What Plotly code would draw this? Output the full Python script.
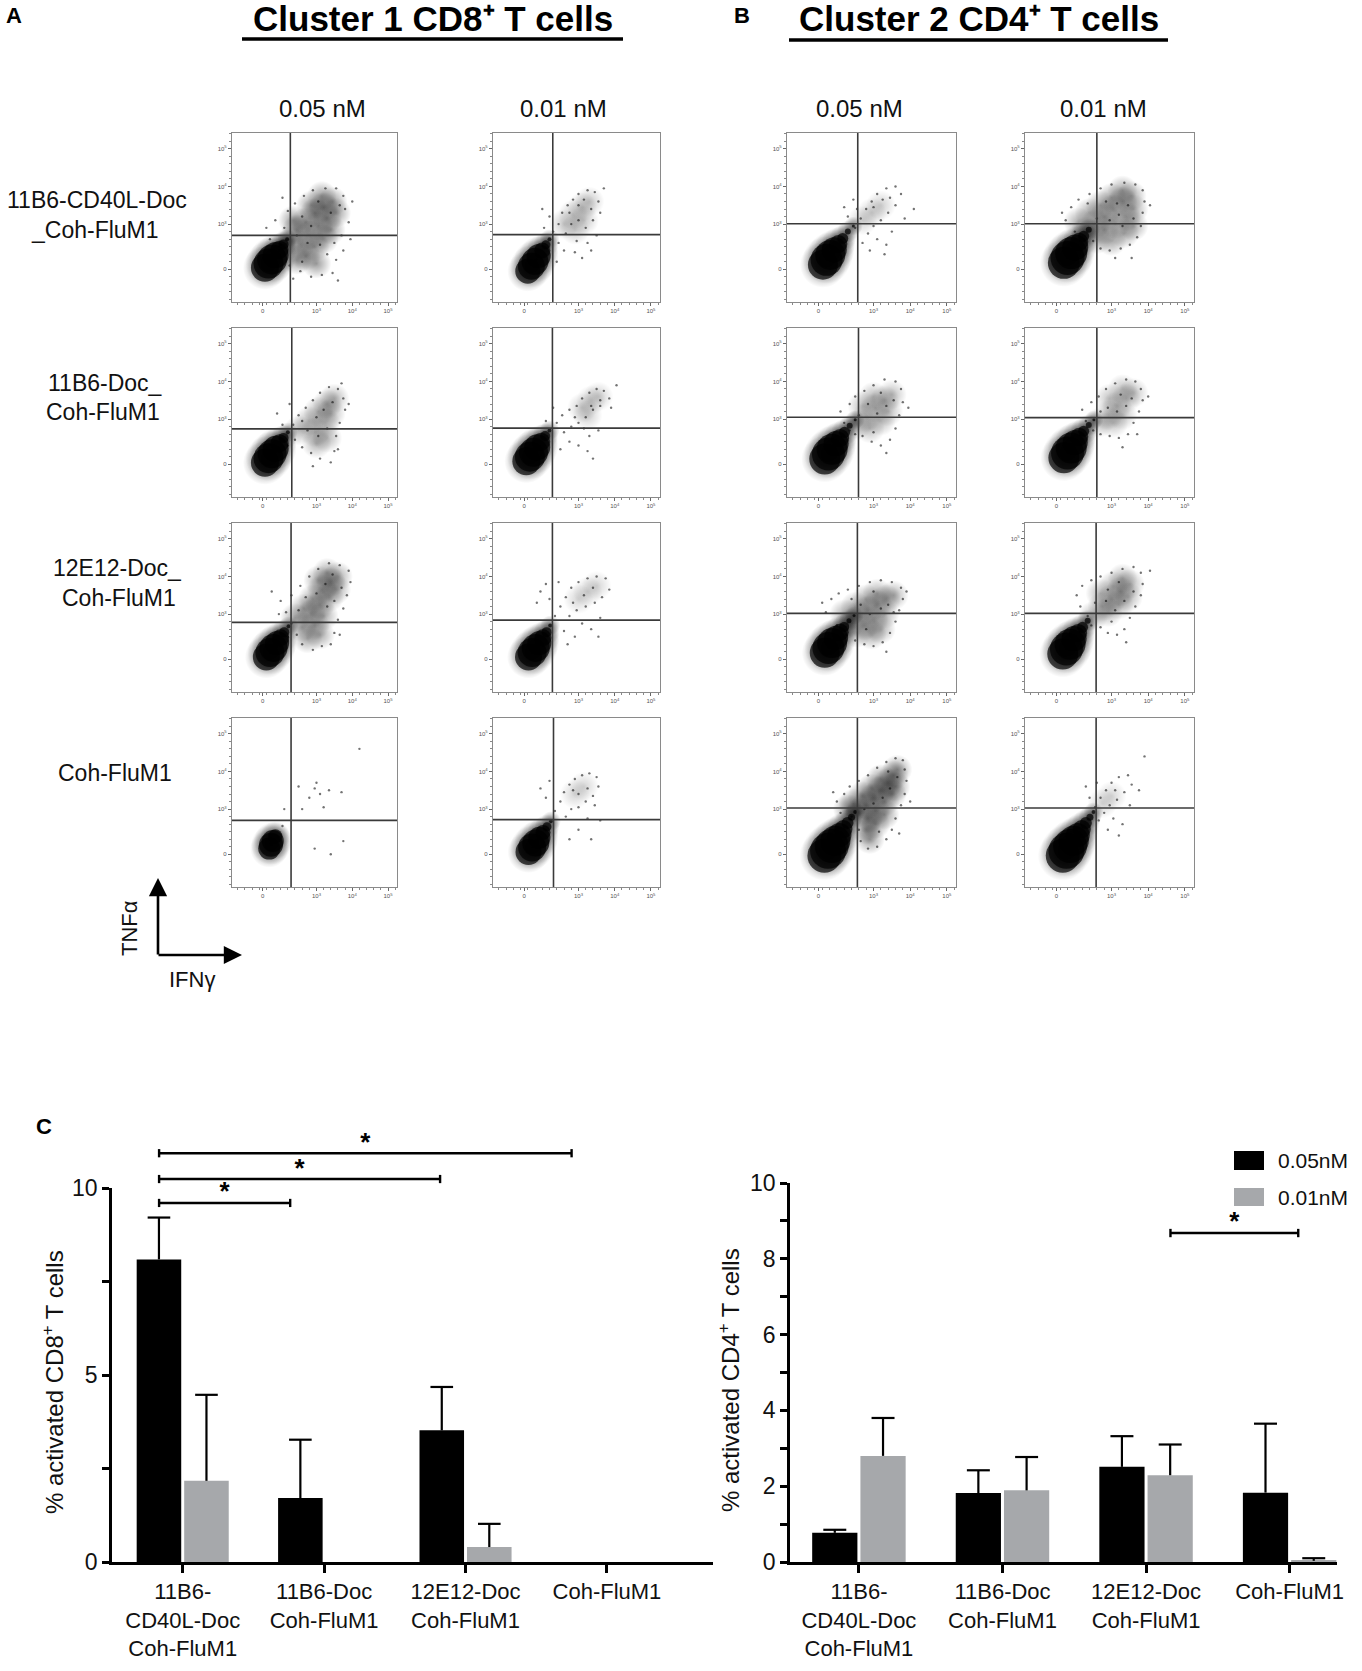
import plotly.graph_objects as go

W, H = 1362, 1671
PAGE_PAD = 0  # body margin is removed by the post script below
FONT = "Liberation Sans, Arial, sans-serif"


def fx(px):
    return (px - PAGE_PAD) / W


def fy(py):
    return 1 - (py - PAGE_PAD) / H


def sfx(n):
    # plotly names the first axis pair "x"/"y", not "x1"/"y1"
    return "" if n == 1 else str(n)


def label(text, px, py, size, angle=0, xanchor="center", color="#111"):
    return dict(text=text, x=fx(px), y=fy(py), xref="paper", yref="paper",
                xanchor=xanchor, yanchor="middle", showarrow=False, textangle=angle,
                font=dict(family=FONT, size=size, color=color))


# ---------------- flow cytometry panels (TNFa vs IFNg) ----------------
# axis units: "0" ~ 1.8 (y) / 1.5 (x), then one unit per decade
FLOW_XRANGE = [0.64, 5.25]
FLOW_YRANGE = [0.93, 5.42]
FLOW_XTICKS = [1.5, 3, 4, 5]
FLOW_YTICKS = [1.8, 3, 4, 5]
FLOW_TICKTEXT = ["0", "10<sup>3</sup>", "10<sup>4</sup>", "10<sup>5</sup>"]

# panel order: row by row, columns = A 0.05, A 0.01, B 0.05, B 0.01
PANEL_IDS = ["A11", "A12", "B11", "B12",
             "A21", "A22", "B21", "B22",
             "A31", "A32", "B31", "B32",
             "A41", "A42", "B41", "B42"]

GATE_X = [2.27, 2.29, 2.57, 2.60,
          2.31, 2.28, 2.59, 2.60,
          2.29, 2.28, 2.56, 2.58,
          2.29, 2.31, 2.56, 2.58]
GATE_Y = [2.70, 2.72, 3.01, 3.01,
          2.74, 2.76, 3.05, 3.04,
          2.78, 2.84, 3.02, 3.02,
          2.70, 2.72, 3.03, 3.03]

HAZE_ALPHA = [0.16, 0.09, 0.08, 0.14,
              0.12, 0.08, 0.11, 0.10,
              0.14, 0.07, 0.13, 0.12,
              0.0, 0.07, 0.16, 0.07]

# dense negative population: (x, y, marker size)
A11_BLOB = [(1.56, 1.84, 30), (1.66, 1.95, 32), (1.76, 2.06, 32), (1.86, 2.18, 28), (1.97, 2.32, 20),
            (2.08, 2.46, 12), (2.18, 2.6, 6)]
A12_BLOB = [(1.6, 1.75, 27), (1.7, 1.88, 29), (1.8, 2.01, 29), (1.9, 2.15, 26), (2.0, 2.3, 18),
            (2.1, 2.45, 11), (2.2, 2.6, 6)]
A21_BLOB = [(1.56, 1.84, 30), (1.66, 1.96, 32), (1.76, 2.08, 31), (1.86, 2.21, 28), (1.97, 2.36, 20),
            (2.08, 2.5, 12), (2.2, 2.65, 6)]
A22_BLOB = [(1.56, 1.88, 30), (1.66, 2.0, 32), (1.76, 2.12, 31), (1.86, 2.25, 28), (1.97, 2.4, 20),
            (2.08, 2.55, 12), (2.2, 2.7, 6)]
A31_BLOB = [(1.6, 1.86, 29), (1.7, 1.98, 31), (1.8, 2.1, 30), (1.9, 2.23, 26), (2.0, 2.37, 19),
            (2.1, 2.52, 12), (2.22, 2.68, 6)]
A32_BLOB = [(1.62, 1.86, 29), (1.72, 1.98, 31), (1.82, 2.1, 30), (1.92, 2.23, 26), (2.02, 2.37, 19),
            (2.12, 2.52, 12), (2.22, 2.7, 6)]
A41_BLOB = [(1.68, 1.95, 24), (1.73, 2.05, 26), (1.78, 2.15, 24), (1.85, 2.28, 16)]
A42_BLOB = [(1.62, 1.86, 28), (1.72, 1.98, 30), (1.82, 2.1, 29), (1.92, 2.24, 24), (2.02, 2.38, 17),
            (2.13, 2.53, 11), (2.24, 2.68, 6)]
B11_BLOB = [(1.62, 1.92, 32), (1.72, 2.05, 34), (1.82, 2.18, 32), (1.93, 2.32, 27), (2.04, 2.47, 20),
            (2.16, 2.62, 13), (2.3, 2.8, 8), (2.45, 2.95, 5)]
B12_BLOB = [(1.7, 1.97, 34), (1.8, 2.1, 36), (1.9, 2.23, 34), (2.01, 2.38, 28), (2.12, 2.53, 20),
            (2.24, 2.68, 13), (2.38, 2.85, 8)]
B21_BLOB = [(1.67, 1.94, 33), (1.77, 2.07, 35), (1.87, 2.2, 33), (1.98, 2.35, 27), (2.09, 2.5, 20),
            (2.21, 2.65, 13), (2.35, 2.82, 8), (2.5, 2.98, 5)]
B22_BLOB = [(1.7, 1.97, 33), (1.8, 2.1, 35), (1.9, 2.23, 33), (2.01, 2.38, 27), (2.12, 2.53, 20),
            (2.24, 2.68, 13), (2.38, 2.84, 8), (2.52, 2.98, 5)]
B31_BLOB = [(1.67, 1.97, 32), (1.77, 2.1, 34), (1.87, 2.23, 32), (1.98, 2.37, 26), (2.09, 2.52, 19),
            (2.2, 2.66, 12), (2.33, 2.82, 7), (2.47, 2.96, 5)]
B32_BLOB = [(1.67, 1.94, 33), (1.77, 2.07, 35), (1.87, 2.2, 33), (1.98, 2.35, 27), (2.09, 2.5, 20),
            (2.21, 2.65, 13), (2.35, 2.82, 8)]
B41_BLOB = [(1.66, 1.76, 36), (1.76, 1.89, 38), (1.86, 2.02, 36), (1.96, 2.16, 32), (2.07, 2.31, 26),
            (2.18, 2.47, 20), (2.29, 2.63, 14), (2.4, 2.78, 9), (2.5, 2.92, 6)]
B42_BLOB = [(1.67, 1.76, 36), (1.77, 1.89, 38), (1.87, 2.02, 36), (1.97, 2.16, 32), (2.08, 2.31, 26),
            (2.19, 2.47, 20), (2.3, 2.63, 14), (2.41, 2.78, 9), (2.51, 2.92, 6)]

# diffuse density of activated cells
A11_HAZE = [(2.25, 2.55), (2.45, 2.85), (2.7, 3.05), (2.95, 3.3), (3.2, 3.45), (3.45, 3.6), (2.55, 2.45),
            (2.8, 2.7), (3.05, 2.95), (3.3, 3.15), (3.55, 3.3), (2.7, 2.15), (2.95, 2.4), (3.2, 2.6),
            (3.4, 2.85), (2.45, 2.05), (3.0, 1.95), (2.85, 3.5), (3.15, 3.75), (2.35, 3.1)]
A12_HAZE = [(2.6, 3.0), (2.85, 3.25), (3.1, 3.45), (3.3, 3.6), (2.9, 2.85), (3.15, 3.1)]
A21_HAZE = [(2.5, 2.7), (2.8, 2.95), (3.05, 3.2), (3.3, 3.4), (3.5, 3.55), (2.95, 2.65), (3.25, 2.9),
            (3.4, 3.15), (3.0, 2.35), (3.3, 2.5)]
A22_HAZE = [(3.1, 3.3), (3.35, 3.5), (3.55, 3.6), (3.25, 3.1)]
A31_HAZE = [(2.4, 2.9), (2.65, 3.15), (2.9, 3.4), (3.15, 3.65), (3.4, 3.85), (3.6, 4.0), (2.85, 3.0),
            (3.1, 3.25), (3.35, 3.45), (3.55, 3.65), (3.05, 3.9), (3.3, 4.1), (2.6, 2.65), (2.95, 2.7),
            (3.2, 2.95), (2.75, 2.35), (3.1, 2.45)]
A32_HAZE = [(3.0, 3.4), (3.25, 3.6), (3.5, 3.75)]
A41_HAZE = []
A42_HAZE = [(2.9, 3.4), (3.15, 3.6)]
B11_HAZE = [(2.7, 3.1), (2.95, 3.3), (3.2, 3.5)]
B12_HAZE = [(2.3, 2.8), (2.55, 3.0), (2.8, 3.2), (3.05, 3.4), (3.3, 3.6), (3.55, 3.75), (2.1, 3.05),
            (2.4, 3.3), (2.7, 3.5), (3.0, 3.7), (3.3, 3.9), (2.8, 2.85), (3.1, 3.0), (3.4, 3.2),
            (3.6, 3.4), (3.0, 2.55), (3.35, 2.75), (3.6, 2.95), (2.6, 2.6)]
B21_HAZE = [(2.55, 2.85), (2.8, 3.05), (3.05, 3.3), (3.3, 3.5), (3.5, 3.65), (2.9, 2.75), (3.2, 2.95),
            (3.4, 3.2), (2.7, 3.35), (3.0, 3.6)]
B22_HAZE = [(2.65, 2.9), (2.9, 3.1), (3.15, 3.35), (3.4, 3.55), (3.6, 3.7), (3.05, 2.9), (3.3, 3.1),
            (2.95, 3.55), (3.3, 3.8)]
B31_HAZE = [(2.35, 2.75), (2.6, 2.95), (2.85, 3.1), (3.1, 3.25), (3.35, 3.4), (3.55, 3.5), (2.2, 3.0),
            (2.5, 3.2), (2.8, 3.4), (3.1, 3.55), (2.75, 2.7), (3.0, 2.85), (3.3, 3.0), (2.95, 2.45),
            (3.2, 2.6), (2.55, 2.5)]
B32_HAZE = [(2.5, 2.95), (2.75, 3.2), (3.0, 3.4), (3.25, 3.6), (3.5, 3.8), (2.9, 3.05), (3.2, 3.25),
            (3.45, 3.45), (2.7, 3.55), (3.05, 3.75), (3.3, 3.95)]
B41_HAZE = [(2.6, 2.9), (2.8, 3.1), (3.0, 3.3), (3.2, 3.5), (3.4, 3.7), (3.55, 3.9), (3.65, 4.05),
            (2.85, 2.75), (3.05, 2.95), (3.3, 3.2), (3.5, 3.4), (3.6, 3.6), (2.45, 3.15), (2.7, 3.35),
            (2.95, 3.55), (3.2, 3.8), (2.8, 2.45), (3.05, 2.6), (3.3, 2.85), (2.9, 2.2), (2.3, 3.0)]
B42_HAZE = [(2.75, 3.15), (3.0, 3.35)]

# individual scattered events
A11_DOTS = [(2.0, 2.45), (2.1, 2.9), (1.85, 3.1), (2.2, 3.35), (1.7, 2.6), (2.4, 3.55), (2.65, 3.75),
            (2.9, 3.9), (3.25, 3.95), (3.55, 3.95), (3.75, 3.75), (3.8, 3.4), (3.9, 3.05), (3.7, 2.7),
            (3.75, 2.3), (3.55, 2.05), (3.45, 1.7), (3.15, 1.65), (2.85, 1.6), (2.55, 1.75), (2.35, 1.55),
            (2.25, 1.9), (3.6, 1.5), (4.0, 3.6), (3.95, 2.6), (2.05, 3.7), (1.6, 2.9), (2.6, 2.0),
            (3.3, 2.2), (3.1, 2.45), (2.85, 2.95), (2.6, 3.2), (3.4, 3.3), (3.65, 3.5), (3.05, 3.6),
            (2.75, 2.5), (3.5, 2.5), (2.45, 2.7)]
A12_DOTS = [(2.3, 2.8), (2.45, 3.0), (2.55, 3.3), (2.7, 3.5), (2.85, 3.65), (3.0, 3.8), (3.25, 3.9),
            (3.45, 3.85), (3.55, 3.6), (3.6, 3.3), (3.4, 3.1), (3.2, 2.9), (3.0, 3.1), (2.8, 3.0),
            (2.65, 2.75), (2.95, 2.55), (3.25, 2.5), (2.9, 2.25), (3.1, 2.1), (2.6, 2.3), (2.45, 2.5),
            (3.5, 2.7), (2.2, 3.2), (2.05, 2.9), (3.7, 3.95), (3.35, 3.4), (3.0, 3.5), (2.75, 3.3),
            (3.15, 3.65), (2.4, 2.0), (3.35, 2.3), (2.0, 3.4)]
A21_DOTS = [(2.35, 2.85), (2.5, 3.1), (2.7, 3.3), (2.9, 3.5), (3.1, 3.7), (3.35, 3.85), (3.6, 3.8),
            (3.75, 3.55), (3.8, 3.25), (3.65, 2.9), (3.55, 2.55), (3.5, 2.15), (3.4, 1.85), (3.1, 1.95),
            (2.85, 2.1), (2.6, 2.25), (2.4, 2.45), (2.2, 2.3), (2.05, 2.85), (1.9, 3.15), (2.25, 3.4),
            (3.0, 3.05), (3.2, 3.25), (3.45, 3.45), (2.75, 2.7), (3.05, 2.55), (3.3, 2.75), (2.6, 2.95),
            (3.7, 3.95), (3.9, 3.4), (2.9, 1.75), (3.6, 2.2)]
A22_DOTS = [(2.4, 2.9), (2.55, 3.1), (2.75, 3.25), (2.95, 3.35), (3.1, 3.55), (3.3, 3.7), (3.5, 3.8),
            (3.7, 3.75), (3.85, 3.55), (3.6, 3.35), (3.4, 3.25), (3.2, 3.05), (3.0, 2.9), (2.8, 2.8),
            (2.6, 2.65), (2.75, 2.4), (3.0, 2.3), (3.25, 2.15), (3.4, 1.95), (3.3, 2.55), (3.55, 2.7),
            (2.5, 2.2), (2.3, 3.3), (2.1, 2.95), (4.05, 3.9), (3.9, 3.3), (3.35, 3.35), (3.6, 3.5),
            (2.9, 3.05), (3.15, 2.75)]
A31_DOTS = [(2.3, 2.75), (2.15, 3.05), (2.0, 3.35), (1.75, 3.6), (2.3, 3.5), (2.55, 3.75), (2.8, 4.0),
            (3.05, 4.2), (3.35, 4.35), (3.65, 4.3), (3.9, 4.15), (3.95, 3.85), (3.85, 3.5), (3.75, 3.15),
            (3.6, 2.85), (3.5, 2.5), (3.4, 2.2), (3.15, 2.15), (2.9, 2.05), (2.6, 2.2), (2.45, 2.45),
            (3.3, 3.2), (3.0, 3.55), (2.7, 3.45), (3.5, 3.35), (3.25, 3.8), (3.45, 4.05), (2.5, 3.1),
            (3.7, 3.7), (2.2, 2.4), (3.65, 2.45), (1.95, 3.0)]
A32_DOTS = [(2.35, 2.95), (2.5, 3.2), (2.65, 3.45), (2.8, 3.7), (3.0, 3.85), (3.25, 3.95), (3.5, 4.0),
            (3.75, 3.95), (3.85, 3.65), (3.65, 3.45), (3.45, 3.3), (3.2, 3.2), (2.95, 3.1), (2.75, 2.95),
            (3.1, 2.75), (3.35, 2.6), (2.9, 2.4), (2.6, 2.55), (2.2, 3.4), (1.95, 3.6), (1.85, 3.3),
            (2.1, 3.8), (2.45, 3.85), (3.6, 2.9), (3.15, 3.5), (3.4, 3.7), (2.85, 3.3), (3.55, 2.4),
            (2.7, 2.2)]
A41_DOTS = [(2.95, 3.55), (2.8, 3.3), (3.1, 3.4), (3.35, 3.5), (3.7, 3.45), (2.6, 3.0), (3.2, 3.05),
            (2.95, 1.95), (3.4, 1.8), (3.75, 2.15), (2.1, 3.0), (2.05, 2.55), (4.2, 4.6), (3.0, 3.7),
            (2.5, 3.6)]
A42_DOTS = [(2.35, 2.95), (2.5, 3.2), (2.6, 3.45), (2.75, 3.65), (2.9, 3.8), (3.1, 3.9), (3.3, 3.95),
            (3.5, 3.85), (3.55, 3.6), (3.4, 3.35), (3.2, 3.2), (3.0, 3.05), (2.8, 3.0), (2.65, 2.8),
            (3.0, 3.4), (3.25, 3.55), (2.85, 3.5), (3.45, 3.1), (2.1, 3.3), (1.95, 3.55), (2.2, 3.75),
            (3.0, 2.45), (3.35, 2.2), (2.75, 2.2), (3.6, 2.7), (3.25, 2.75)]
B11_DOTS = [(2.5, 2.9), (2.65, 3.15), (2.8, 3.4), (2.95, 3.6), (3.1, 3.8), (3.35, 3.95), (3.6, 4.0),
            (3.75, 3.8), (3.6, 3.5), (3.4, 3.3), (3.2, 3.1), (3.0, 2.95), (2.85, 2.75), (3.1, 2.6),
            (3.35, 2.45), (3.5, 2.8), (2.7, 2.5), (2.3, 3.2), (2.2, 3.45), (2.45, 3.65), (3.25, 3.65),
            (3.0, 3.45), (3.45, 3.7), (3.85, 3.15), (3.3, 2.2), (2.9, 2.3), (2.55, 3.4), (4.1, 3.4)]
B12_DOTS = [(1.75, 3.1), (1.65, 3.3), (1.9, 3.45), (2.1, 3.65), (2.4, 3.8), (2.7, 3.95), (3.0, 4.05),
            (3.35, 4.1), (3.65, 4.05), (3.85, 3.9), (3.9, 3.6), (3.85, 3.3), (3.8, 2.95), (3.7, 2.65),
            (3.5, 2.45), (3.25, 2.35), (2.95, 2.3), (2.7, 2.35), (2.5, 2.55), (2.25, 2.55), (2.0, 2.8),
            (3.2, 3.25), (2.95, 3.1), (2.6, 3.15), (3.45, 3.5), (3.15, 3.55), (2.85, 3.6), (3.6, 3.15),
            (2.35, 3.55), (3.3, 2.95), (4.05, 3.5), (3.1, 2.1), (3.55, 2.1)]
B21_DOTS = [(2.2, 2.9), (2.1, 3.2), (2.35, 3.4), (2.5, 3.6), (2.75, 3.75), (3.0, 3.9), (3.3, 4.05),
            (3.6, 4.0), (3.75, 3.8), (3.8, 3.45), (3.7, 3.1), (3.6, 2.75), (3.45, 2.45), (3.2, 2.3),
            (2.95, 2.4), (2.7, 2.55), (2.5, 2.6), (3.1, 3.15), (2.85, 3.4), (3.35, 3.35), (3.55, 3.5),
            (3.2, 3.7), (2.6, 3.1), (3.0, 2.65), (3.95, 3.3), (2.35, 2.7), (3.35, 2.1)]
B22_DOTS = [(2.3, 2.95), (2.2, 3.25), (2.45, 3.45), (2.65, 3.6), (2.85, 3.8), (3.1, 3.95), (3.4, 4.05),
            (3.65, 4.0), (3.8, 3.8), (3.85, 3.5), (3.75, 3.2), (3.6, 2.9), (3.45, 2.6), (3.2, 2.5),
            (2.95, 2.55), (2.7, 2.6), (2.5, 2.7), (3.15, 3.2), (2.9, 3.3), (3.4, 3.35), (3.55, 3.55),
            (3.25, 3.65), (2.7, 3.2), (3.7, 2.6), (4.0, 3.6), (3.3, 2.25)]
B31_DOTS = [(1.7, 3.05), (1.6, 3.3), (1.85, 3.4), (2.05, 3.55), (2.3, 3.65), (2.6, 3.75), (2.9, 3.85),
            (3.2, 3.9), (3.5, 3.85), (3.75, 3.7), (3.8, 3.4), (3.7, 3.1), (3.6, 2.8), (3.45, 2.5),
            (3.25, 2.25), (3.0, 2.15), (2.75, 2.2), (2.5, 2.3), (2.25, 2.45), (2.0, 2.7), (2.9, 3.0),
            (2.65, 3.25), (3.2, 3.15), (3.4, 3.25), (2.4, 3.4), (3.0, 3.6), (3.55, 3.05), (2.8, 2.6),
            (3.9, 3.6), (3.35, 2.0)]
B32_DOTS = [(2.15, 3.2), (2.05, 3.5), (2.2, 3.75), (2.45, 3.9), (2.7, 4.0), (3.0, 4.1), (3.3, 4.2),
            (3.6, 4.25), (3.8, 4.1), (3.85, 3.8), (3.8, 3.5), (3.65, 3.2), (3.5, 2.9), (3.35, 2.6),
            (3.15, 2.45), (2.9, 2.5), (2.7, 2.65), (2.45, 2.7), (2.35, 2.95), (3.1, 3.1), (2.85, 3.35),
            (3.35, 3.35), (3.6, 3.6), (3.2, 3.85), (2.55, 3.3), (3.0, 2.8), (4.05, 4.15), (3.4, 2.25),
            (2.9, 3.65)]
B41_DOTS = [(2.0, 3.2), (1.9, 3.45), (2.2, 3.4), (2.35, 3.6), (2.6, 3.75), (2.85, 3.9), (3.1, 4.1),
            (3.35, 4.25), (3.6, 4.35), (3.8, 4.3), (3.85, 4.05), (3.9, 3.75), (3.85, 3.4), (3.75, 3.1),
            (3.6, 2.75), (3.5, 2.45), (3.35, 2.2), (3.1, 2.0), (2.85, 1.95), (2.65, 2.15), (2.6, 2.45),
            (3.45, 3.55), (3.25, 3.3), (3.0, 3.15), (2.75, 3.0), (3.65, 3.85), (3.4, 4.0), (3.15, 2.4),
            (2.4, 2.8), (4.0, 3.2), (2.1, 2.9), (3.7, 2.35)]
B42_DOTS = [(2.55, 3.05), (2.7, 3.3), (2.85, 3.5), (3.0, 3.7), (3.2, 3.85), (3.45, 3.9), (3.55, 3.65),
            (3.35, 3.45), (3.15, 3.25), (2.95, 3.1), (2.8, 2.9), (3.05, 2.75), (3.3, 2.6), (2.9, 2.45),
            (2.4, 3.3), (2.3, 3.6), (3.1, 3.5), (2.65, 2.7), (3.5, 3.1), (3.75, 3.5), (3.2, 2.3),
            (2.6, 3.7), (3.9, 4.4)]

BLOBS = [A11_BLOB, A12_BLOB, B11_BLOB, B12_BLOB, A21_BLOB, A22_BLOB, B21_BLOB, B22_BLOB,
         A31_BLOB, A32_BLOB, B31_BLOB, B32_BLOB, A41_BLOB, A42_BLOB, B41_BLOB, B42_BLOB]
HAZES = [A11_HAZE, A12_HAZE, B11_HAZE, B12_HAZE, A21_HAZE, A22_HAZE, B21_HAZE, B22_HAZE,
         A31_HAZE, A32_HAZE, B31_HAZE, B32_HAZE, A41_HAZE, A42_HAZE, B41_HAZE, B42_HAZE]
DOTS = [A11_DOTS, A12_DOTS, B11_DOTS, B12_DOTS, A21_DOTS, A22_DOTS, B21_DOTS, B22_DOTS,
        A31_DOTS, A32_DOTS, B31_DOTS, B32_DOTS, A41_DOTS, A42_DOTS, B41_DOTS, B42_DOTS]

# panel boxes in page pixels
COL_X = [(232, 397), (493, 660), (787, 956), (1025, 1194)]
ROW_Y = [(133, 302), (328, 497), (523, 692), (718, 887)]

COL_HEADERS = ["0.05 nM", "0.01 nM", "0.05 nM", "0.01 nM"]
ROW_LABELS = [["11B6-CD40L-Doc", "_Coh-FluM1"], ["11B6-Doc_", "Coh-FluM1"],
              ["12E12-Doc_", "Coh-FluM1"], ["Coh-FluM1"]]

# ---------------- bar charts ----------------
GROUPS = ["11B6-<br>CD40L-Doc<br>Coh-FluM1", "11B6-Doc<br>Coh-FluM1",
          "12E12-Doc<br>Coh-FluM1", "Coh-FluM1"]
SERIES = ["0.05nM", "0.01nM"]
CD8_05 = [8.09, 1.71, 3.52, 0.0]
CD8_05_ERR = [1.12, 1.56, 1.16, 0.0]
CD8_01 = [2.17, 0.0, 0.40, 0.0]
CD8_01_ERR = [2.30, 0.0, 0.62, 0.0]
CD4_05 = [0.77, 1.82, 2.51, 1.83]
CD4_05_ERR = [0.08, 0.60, 0.81, 1.82]
CD4_01 = [2.80, 1.89, 2.29, 0.03]
CD4_01_ERR = [1.00, 0.88, 0.81, 0.07]
# significance brackets: (x start, x end, height)
CD8_BRACKETS = [(-0.167, 0.76, 9.6), (-0.167, 1.82, 10.24), (-0.167, 2.75, 10.93)]
CD4_BRACKETS = [(2.17, 3.06, 8.68)]

BLACK = "#000000"
GREY = "#a6a8ab"
OFF = 0.168
BAR_W = 0.315
CAP = 0.08

fig = go.Figure()
shapes = []
annotations = []
layout_axes = {}

tickfont = dict(family=FONT, size=6, color="#555")
for k, pid in enumerate(PANEL_IDS):
    n = k + 1
    r, c = divmod(k, 4)
    x0, x1 = COL_X[c]
    y0, y1 = ROW_Y[r]
    xa, ya = "x" + sfx(n), "y" + sfx(n)
    common = dict(showgrid=False, zeroline=False, showline=True, mirror=True,
                  linecolor="#8a8a8a", linewidth=1.2, ticks="outside", ticklen=3,
                  tickcolor="#666", tickfont=tickfont, tickmode="array",
                  ticktext=FLOW_TICKTEXT, fixedrange=True, automargin=False,
                  minor=dict(tickmode="linear", tick0=0, dtick=0.2, ticklen=2,
                             tickcolor="#888", ticks="outside"))
    layout_axes["xaxis" + sfx(n)] = dict(common, domain=[fx(x0), fx(x1)], range=FLOW_XRANGE,
                                         tickvals=FLOW_XTICKS, anchor=ya)
    layout_axes["yaxis" + sfx(n)] = dict(common, domain=[fy(y1), fy(y0)], range=FLOW_YRANGE,
                                         tickvals=FLOW_YTICKS, anchor=xa)

    haze = HAZES[k]
    if haze and HAZE_ALPHA[k] > 0:
        # radial gradient: gradient.color is the centre, marker.color the rim
        fig.add_trace(go.Scatter(
            x=[p[0] for p in haze], y=[p[1] for p in haze], mode="markers",
            marker=dict(size=30, color="rgba(0,0,0,0)",
                        gradient=dict(type="radial",
                                      color=f"rgba(0,0,0,{min(HAZE_ALPHA[k] * 2.4, 0.5):.3f})"),
                        line=dict(width=0)),
            xaxis=xa, yaxis=ya, hoverinfo="skip", showlegend=False))
    dots = DOTS[k]
    fig.add_trace(go.Scatter(
        x=[p[0] for p in dots], y=[p[1] for p in dots], mode="markers",
        marker=dict(size=2.4, color="rgba(0,0,0,0.55)", line=dict(width=0)),
        xaxis=xa, yaxis=ya, hoverinfo="skip", showlegend=False))
    blob = BLOBS[k]
    fig.add_trace(go.Scatter(
        x=[p[0] for p in blob], y=[p[1] for p in blob], mode="markers",
        marker=dict(size=[p[2] + 14 for p in blob], color="rgba(0,0,0,0)",
                    gradient=dict(type="radial", color="rgba(0,0,0,0.7)"), line=dict(width=0)),
        xaxis=xa, yaxis=ya, hoverinfo="skip", showlegend=False))
    fig.add_trace(go.Scatter(
        x=[p[0] for p in blob], y=[p[1] for p in blob], mode="markers",
        marker=dict(size=[p[2] - 2 for p in blob], color=BLACK, line=dict(width=0)),
        xaxis=xa, yaxis=ya, hoverinfo="skip", showlegend=False))

    # quadrant gates
    shapes.append(dict(type="line", xref=xa, yref=f"{ya} domain", x0=GATE_X[k], x1=GATE_X[k],
                       y0=0, y1=1, line=dict(color="#3a3a3a", width=1.6)))
    shapes.append(dict(type="line", xref=f"{xa} domain", yref=ya, x0=0, x1=1,
                       y0=GATE_Y[k], y1=GATE_Y[k], line=dict(color="#3a3a3a", width=1.6)))

# column headers
for c, txt in enumerate(COL_HEADERS):
    cx = [322, 563, 859, 1103][c]
    annotations.append(label(txt, cx, 109, 24))

# row labels
ROW_LABEL_POS = [[(97, 200), (95, 230)], [(105, 383), (103, 412)],
                 [(117, 568), (119, 598)], [(115, 773)]]
for r, lines in enumerate(ROW_LABELS):
    for txt, (px, py) in zip(lines, ROW_LABEL_POS[r]):
        annotations.append(label(txt, px, py, 23))

# panel letters and titles
for txt, px, py in [("A", 14, 16), ("B", 742, 15), ("C", 44, 1126)]:
    annotations.append(label(f"<b>{txt}</b>", px, py, 22, color="#000"))
for txt, px in [("Cluster 1 CD8⁺ T cells", 433), ("Cluster 2 CD4⁺ T cells", 979)]:
    annotations.append(label(f"<b>{txt}</b>", px, 19, 35, color="#000"))
for ux0, ux1, uy in [(242, 623, 39), (789, 1168, 40)]:
    shapes.append(dict(type="line", xref="paper", yref="paper", x0=fx(ux0), x1=fx(ux1),
                       y0=fy(uy), y1=fy(uy), line=dict(color="#000", width=3.5)))

# TNFa / IFNg orientation arrows
annotations.append(dict(x=fx(158), y=fy(878), xref="paper", yref="paper", ax=0, ay=78,
                        text="", showarrow=True, arrowhead=2, arrowsize=1.4, arrowwidth=2.6,
                        arrowcolor="#000", standoff=0, startstandoff=0))
annotations.append(dict(x=fx(242), y=fy(955), xref="paper", yref="paper", ax=-85, ay=0,
                        text="", showarrow=True, arrowhead=2, arrowsize=1.4, arrowwidth=2.6,
                        arrowcolor="#000", standoff=0, startstandoff=0))
annotations.append(label("TNFα", 129, 928, 22, angle=-90))
annotations.append(label("IFNγ", 192, 980, 22))

# ---------------- bar charts ----------------
# brackets live on a taller invisible y axis with the same scale, so they may rise above 10
BAR_AXES = [
    dict(n=17, over=19, vals05=CD8_05, err05=CD8_05_ERR, vals01=CD8_01, err01=CD8_01_ERR,
         brackets=CD8_BRACKETS, xdom=(112, 713), xr=[-0.5, 3.75], ydom=(1188, 1562),
         ytickvals=[0, 5, 10], minor=2.5,
         title="% activated CD8<sup>+</sup> T cells", tx=53, ty=1382),
    dict(n=18, over=20, vals05=CD4_05, err05=CD4_05_ERR, vals01=CD4_01, err01=CD4_01_ERR,
         brackets=CD4_BRACKETS, xdom=(790, 1337), xr=[-0.48, 3.33], ydom=(1183, 1562),
         ytickvals=[0, 2, 4, 6, 8, 10], minor=1,
         title="% activated CD4<sup>+</sup> T cells", tx=729, ty=1380),
]
OVER_TOP = 1110

for spec in BAR_AXES:
    n = spec["n"]
    xa, ya, yo = f"x{n}", f"y{n}", f"y{spec['over']}"
    idx = list(range(len(GROUPS)))
    fig.add_trace(go.Bar(x=[i - OFF for i in idx], y=spec["vals05"], width=BAR_W,
                         marker=dict(color=BLACK, line=dict(width=0)), name=SERIES[0],
                         xaxis=xa, yaxis=ya, showlegend=False, hoverinfo="skip"))
    fig.add_trace(go.Bar(x=[i + OFF for i in idx], y=spec["vals01"], width=BAR_W,
                         marker=dict(color=GREY, line=dict(width=0)), name=SERIES[1],
                         xaxis=xa, yaxis=ya, showlegend=False, hoverinfo="skip"))
    # upper error bars only
    ex, ey = [], []
    for shift, vals, errs in [(-OFF, spec["vals05"], spec["err05"]), (OFF, spec["vals01"], spec["err01"])]:
        for i, (v, e) in enumerate(zip(vals, errs)):
            if e <= 0:
                continue
            xc = i + shift
            ex += [xc, xc, None, xc - CAP, xc + CAP, None]
            ey += [v, v + e, None, v + e, v + e, None]
    fig.add_trace(go.Scatter(x=ex, y=ey, mode="lines", line=dict(color=BLACK, width=2.2),
                             xaxis=xa, yaxis=yo, hoverinfo="skip", showlegend=False))
    # significance brackets
    bx, by, sx, sy = [], [], [], []
    for b0, b1, h in spec["brackets"]:
        bx += [b0, b1, None, b0, b0, None, b1, b1, None]
        by += [h, h, None, h - 0.11, h + 0.11, None, h - 0.11, h + 0.11, None]
        sx.append((b0 + b1) / 2)
        sy.append(h + 0.24)
    fig.add_trace(go.Scatter(x=bx, y=by, mode="lines", line=dict(color=BLACK, width=2.4),
                             xaxis=xa, yaxis=yo, hoverinfo="skip", showlegend=False))
    fig.add_trace(go.Scatter(x=sx, y=sy, mode="text", text=["*"] * len(sx),
                             textposition="middle center",
                             textfont=dict(family=FONT, size=26, color=BLACK, weight="bold"),
                             xaxis=xa, yaxis=yo, hoverinfo="skip", showlegend=False))

    x0, x1 = spec["xdom"]
    y0, y1 = spec["ydom"]
    scale = (y1 - y0) / 10.0
    layout_axes[f"xaxis{n}"] = dict(
        domain=[fx(x0), fx(x1)], range=spec["xr"], anchor=ya, showgrid=False, zeroline=False,
        showline=True, linecolor=BLACK, linewidth=2.5, ticks="outside", ticklen=8, tickwidth=2.5,
        tickcolor=BLACK, tickmode="array", tickvals=idx, ticktext=GROUPS, fixedrange=True,
        automargin=False, tickfont=dict(family=FONT, size=22, color="#111"))
    layout_axes[f"yaxis{n}"] = dict(
        domain=[fy(y1), fy(y0)], range=[0, 10], anchor=xa, showgrid=False, zeroline=False,
        showline=True, linecolor=BLACK, linewidth=2.5, ticks="outside", ticklen=7, tickwidth=2.5,
        tickcolor=BLACK, tickmode="array", tickvals=spec["ytickvals"], fixedrange=True,
        automargin=False, tickfont=dict(family=FONT, size=23, color="#111"),
        minor=dict(tickmode="linear", tick0=0, dtick=spec["minor"], ticklen=7, tickwidth=2.5,
                   tickcolor=BLACK, ticks="outside"))
    layout_axes[f"yaxis{spec['over']}"] = dict(
        domain=[fy(y1), fy(OVER_TOP)], range=[0, (y1 - OVER_TOP) / scale], anchor=xa,
        visible=False, fixedrange=True, automargin=False)
    annotations.append(label(spec["title"], spec["tx"], spec["ty"], 24, angle=-90))

# legend drawn by hand (large swatches)
for (sy0, sy1), col, txt in [((1151, 1170), BLACK, SERIES[0]), ((1188, 1206), GREY, SERIES[1])]:
    shapes.append(dict(type="rect", xref="paper", yref="paper", x0=fx(1234), x1=fx(1264),
                       y0=fy(sy1), y1=fy(sy0), fillcolor=col, line=dict(width=0)))
    annotations.append(label(txt, 1276, (sy0 + sy1) / 2, 21, xanchor="left"))

fig.update_layout(
    width=W, height=H, margin=dict(l=0, r=0, t=0, b=0, autoexpand=False),
    paper_bgcolor="white", plot_bgcolor="rgba(0,0,0,0)",
    showlegend=False, hovermode=False, barmode="overlay",
    shapes=shapes, annotations=annotations,
    **layout_axes,
)

# drop the default 8 px page margin so the figure sits at the window's top-left corner
fig.write_html("out.html", config={"displayModeBar": False},
               post_script="document.body.style.margin='0';")
